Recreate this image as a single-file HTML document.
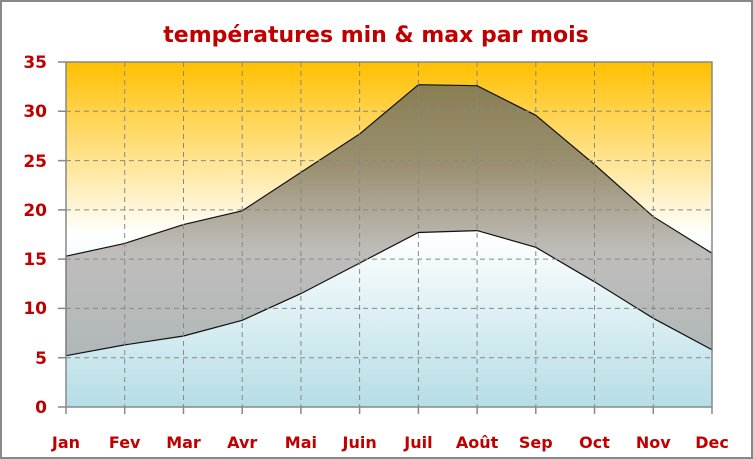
<!DOCTYPE html>
<html><head><meta charset="utf-8"><style>
body{margin:0;background:#fff}
svg{display:block}
text{font-family:"DejaVu Sans","Liberation Sans",sans-serif;font-weight:bold;fill:#c00000}
</style></head><body>
<svg width="753" height="459" xmlns="http://www.w3.org/2000/svg">
<defs>
<linearGradient id="bg" x1="0" y1="62" x2="0" y2="407" gradientUnits="userSpaceOnUse">
<stop offset="0" stop-color="#ffc000"/>
<stop offset="0.5" stop-color="#ffffff"/>
<stop offset="1" stop-color="#b5dde6"/>
</linearGradient>
<linearGradient id="band" x1="0" y1="62" x2="0" y2="407" gradientUnits="userSpaceOnUse">
<stop offset="0" stop-color="#84784a"/>
<stop offset="0.3" stop-color="#9a9070"/>
<stop offset="0.55" stop-color="#bfbdba"/>
<stop offset="1" stop-color="#a9b5b8"/>
</linearGradient>
</defs>
<rect x="1" y="1" width="751" height="457" fill="#fff" stroke="#888" stroke-width="2"/>
<text x="376" y="42" text-anchor="middle" font-size="22">températures min &amp; max par mois</text>
<rect x="66" y="62" width="646" height="345" fill="url(#bg)"/>
<polygon fill="url(#band)" stroke="#111" stroke-width="1.2" points="66,256.2 124.7,243.4 183.5,224.6 242.2,210.8 300.9,172.4 359.6,134 418.4,84.7 477.1,85.7 535.8,115.3 594.5,164.5 653.3,216.7 712,253.2 712,349.8 653.3,318.3 594.5,281.8 535.8,247.3 477.1,230.6 418.4,232.5 359.6,263.1 300.9,293.6 242.2,320.3 183.5,336 124.7,344.9 66,355.7"/>
<g stroke="#888" stroke-width="1" stroke-dasharray="5,4" fill="none">
<path d="M66 111.3H712M66 160.6H712M66 209.9H712M66 259.1H712M66 308.4H712M66 357.7H712"/>
<path d="M124.7 62V407M183.5 62V407M242.2 62V407M300.9 62V407M359.6 62V407M418.4 62V407M477.1 62V407M535.8 62V407M594.5 62V407M653.3 62V407"/>
</g>
<rect x="66" y="62" width="646" height="345" fill="none" stroke="#888" stroke-width="1.5"/>
<g stroke="#888" stroke-width="1.5">
<path d="M58 62H66M58 111.3H66M58 160.6H66M58 209.9H66M58 259.1H66M58 308.4H66M58 357.7H66M58 407H66"/>
<path d="M66 407V414M124.7 407V414M183.5 407V414M242.2 407V414M300.9 407V414M359.6 407V414M418.4 407V414M477.1 407V414M535.8 407V414M594.5 407V414M653.3 407V414M712 407V414"/>
</g>
<g font-size="17" text-anchor="end">
<text x="47" y="68">35</text><text x="47" y="117">30</text><text x="47" y="167">25</text><text x="47" y="216">20</text><text x="47" y="265">15</text><text x="47" y="314">10</text><text x="47" y="364">5</text><text x="47" y="413">0</text>
</g>
<g font-size="16" text-anchor="middle">
<text x="66" y="448">Jan</text><text x="124.7" y="448">Fev</text><text x="183.5" y="448">Mar</text><text x="242.2" y="448">Avr</text><text x="300.9" y="448">Mai</text><text x="359.6" y="448">Juin</text><text x="418.4" y="448">Juil</text><text x="477.1" y="448">Août</text><text x="535.8" y="448">Sep</text><text x="594.5" y="448">Oct</text><text x="653.3" y="448">Nov</text><text x="712" y="448">Dec</text>
</g>
</svg>
</body></html>
